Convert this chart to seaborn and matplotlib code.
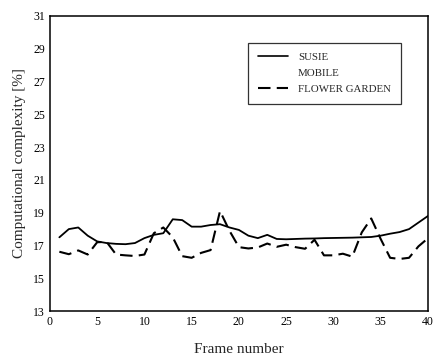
import numpy as np
import pandas as pd
import matplotlib
matplotlib.use("Agg")
import matplotlib.pyplot as plt
from matplotlib.lines import Line2D
import seaborn as sns

frames = list(range(1, 41))
susie = [17.5, 18.0, 18.1, 17.6, 17.25, 17.15, 17.1, 17.08, 17.15, 17.45,
         17.65, 17.75, 18.6, 18.55, 18.15, 18.15, 18.25, 18.3, 18.1, 17.95,
         17.6, 17.45, 17.65, 17.4, 17.38, 17.4, 17.42, 17.43, 17.45, 17.46,
         17.47, 17.48, 17.5, 17.52, 17.6, 17.72, 17.82, 18.0, 18.4, 18.8]
flower_garden = [16.62, 16.47, 16.7, 16.45, 17.2, 17.22, 16.45, 16.4, 16.36, 16.45,
                 17.75, 18.1, 17.5, 16.35, 16.25, 16.55, 16.72, 19.1, 17.9, 16.9,
                 16.82, 16.88, 17.12, 16.92, 17.05, 16.9, 16.8, 17.35, 16.4, 16.4,
                 16.5, 16.32, 17.8, 18.65, 17.4, 16.25, 16.18, 16.25, 16.95, 17.44]
series_names = ["SUSIE", "MOBILE", "FLOWER GARDEN"]
xticks = list(range(0, 41, 5))
yticks = list(range(13, 32, 2))

sns.set_style("white")
plt.rcParams['font.family'] = ['Liberation Serif', 'DejaVu Serif']

fig = plt.figure(figsize=(4.34, 3.63), dpi=100)
ax = fig.add_axes([0.115, 0.143, 0.871, 0.813])

df_s = pd.DataFrame({"frame": frames, "value": susie})
df_f = pd.DataFrame({"frame": frames, "value": flower_garden})
sns.lineplot(data=df_s, x="frame", y="value", ax=ax, color="black", linewidth=1.3)
sns.lineplot(data=df_f, x="frame", y="value", ax=ax, color="black", linewidth=1.5,
             linestyle=(0, (6, 3)))

ax.set_xlim(0, 40)
ax.set_ylim(13, 31)
ax.set_xticks(xticks)
ax.set_yticks(yticks)
ax.tick_params(direction="in", length=3, width=0.8, labelsize=8.5, colors="black")
for s in ax.spines.values():
    s.set_color("black")
    s.set_linewidth(1.1)
ax.set_xlabel("Frame number", fontsize=11, labelpad=11)
ax.set_ylabel("Computational complexity [%]", fontsize=11, labelpad=5)

handles = [Line2D([], [], color="black", lw=1.2),
           Line2D([], [], color="black", lw=0, linestyle="none"),
           Line2D([], [], color="black", lw=1.5, linestyle=(0, (6, 3)))]
leg = ax.legend(handles, series_names, loc="upper left", bbox_to_anchor=(0.51, 0.928),
                fontsize=7.8, frameon=True, fancybox=False, edgecolor="black",
                handlelength=2.8, borderpad=0.9, labelspacing=0.6, handletextpad=0.9)
leg.get_frame().set_linewidth(0.9)

fig.savefig("out.png", dpi=100)
